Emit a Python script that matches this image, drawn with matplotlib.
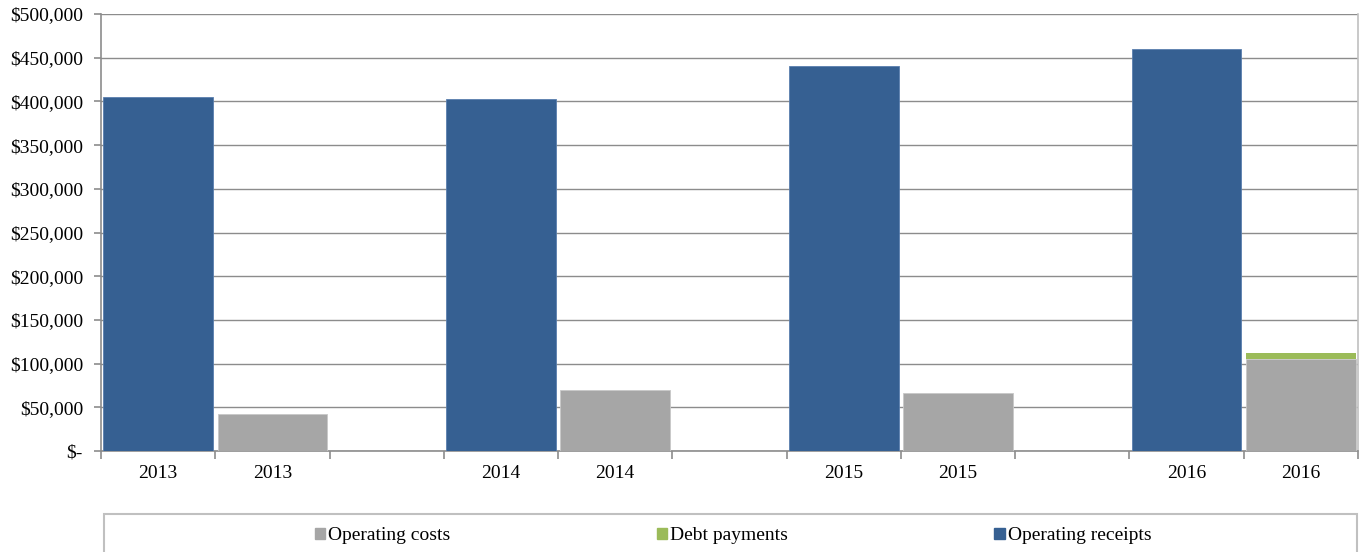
import numpy as np
import matplotlib
matplotlib.use("Agg")
import matplotlib.pyplot as plt
from matplotlib.patches import Rectangle
from matplotlib.ticker import FuncFormatter

# Datos
years = ["2013", "2014", "2015", "2016"]
operating_receipts = [405000, 403000, 440500, 460000]
operating_costs = [42000, 69500, 66500, 105000]
debt_payments = [0, 0, 0, 7000]

plt.rcParams['font.family'] = ['Liberation Serif', 'DejaVu Serif']
plt.rcParams['font.size'] = 14

blue = '#366092'
grey = '#a6a6a6'
green = '#9bbb59'
gridc = '#8c8c8c'

fig = plt.figure(figsize=(13.63, 5.52), dpi=100)
ax = fig.add_axes([0.0741, 0.183, 0.9222, 0.7916])

# Cada anio ocupa 3 espacios: ingresos, costos, vacio
pos_rec = np.arange(len(years)) * 3
pos_cost = pos_rec + 1
w = 0.96

ax.bar(pos_rec, operating_receipts, width=w, color=blue, edgecolor='#5a7fae', linewidth=0.6, zorder=3)
ax.bar(pos_cost, operating_costs, width=w, color=grey, edgecolor='#c8c8c8', linewidth=0.6, zorder=3)
ax.bar(pos_cost, debt_payments, width=w, bottom=operating_costs, color=green, linewidth=0, zorder=3)

ax.set_xlim(-0.5, 10.5)
ax.set_ylim(0, 500000)
ax.set_yticks(np.arange(0, 500001, 50000))
ax.yaxis.set_major_formatter(FuncFormatter(lambda v, p: '$-' if v == 0 else '${:,.0f}'.format(v)))

# Etiquetas de anio centradas, marcas en los bordes
labels_pos = list(pos_rec) + list(pos_cost)
labels_txt = years + years
ax.set_xticks(labels_pos)
ax.set_xticklabels(labels_txt)
ax.tick_params(axis='x', which='major', length=0, pad=10)
ax.set_xticks(np.arange(-0.5, 10.6, 1), minor=True)
ax.tick_params(axis='x', which='minor', length=6, color=gridc, width=1.2, direction='out')
ax.tick_params(axis='y', length=5, color=gridc, width=1.2, pad=8)

ax.grid(axis='y', color=gridc, linewidth=1, zorder=0)
for s in ['left', 'bottom', 'right']:
    ax.spines[s].set_color(gridc)
    ax.spines[s].set_linewidth(1.2)
ax.spines['right'].set_color('#c0c0c0')
ax.spines['top'].set_visible(False)

# Leyenda con marco
fig.patches.append(Rectangle((104 / 1363, -0.05), (1357 - 104) / 1363, 1 - 514 / 552 + 0.05,
                             transform=fig.transFigure, fill=False, edgecolor='#c0c0c0', linewidth=1.5))
handles = [Rectangle((0, 0), 1, 1, color=grey), Rectangle((0, 0), 1, 1, color=green),
           Rectangle((0, 0), 1, 1, color=blue)]
fig.legend(handles, ['Operating costs', 'Debt payments', 'Operating receipts'],
           loc='center', bbox_to_anchor=(733 / 1363, 1 - 536 / 552), ncol=3, frameon=False,
           handlelength=0.55, handleheight=0.55, handletextpad=0.15, columnspacing=10.6, fontsize=14)

fig.savefig('out.png', dpi=100)
